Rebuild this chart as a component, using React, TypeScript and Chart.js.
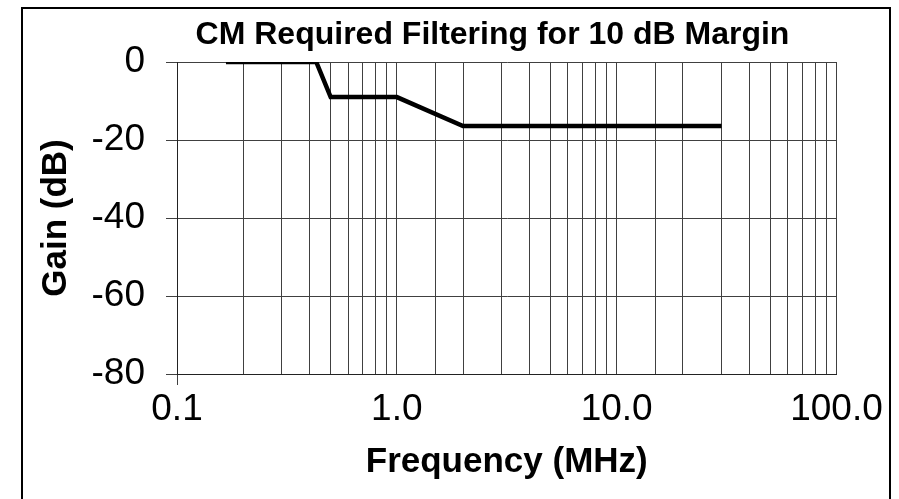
import React, { useEffect, useRef } from "react";
import { Chart, registerables } from "chart.js";

Chart.register(...registerables);

const chartTitle = "CM Required Filtering for 10 dB Margin";
const xAxisTitle = "Frequency (MHz)";
const yAxisTitle = "Gain (dB)";

const frequencyMHz = [0.167, 0.43, 0.5, 1.0, 2.0, 30];
const gainDb = [0, 0, -9, -9, -16.4, -16.4];

const xMajorTicks = [0.1, 1, 10, 100];
const xMajorLabels = ["0.1", "1.0", "10.0", "100.0"];
const yTickValues = [0, -20, -40, -60, -80];

const FONT = '"Liberation Sans", Arial, Helvetica, sans-serif';

const titlePlugin = {
  id: "customTitle",
  afterDraw(chart: any) {
    const ctx = chart.ctx;
    ctx.save();
    ctx.font = `bold 32px ${FONT}`;
    ctx.fillStyle = "#000";
    ctx.textAlign = "center";
    ctx.textBaseline = "alphabetic";
    ctx.fillText(chartTitle, 492.5, 44);
    ctx.restore();
  },
};

export default function App() {
  const canvasRef = useRef<HTMLCanvasElement | null>(null);

  useEffect(() => {
    document.body.style.margin = "0";
    const canvas = canvasRef.current;
    if (!canvas) return;
    const data = frequencyMHz.map((f, i) => ({ x: f, y: gainDb[i] }));
    const chart = new Chart(canvas, {
      type: "line",
      data: {
        datasets: [
          {
            data,
            borderColor: "#000",
            borderWidth: 4.5,
            pointRadius: 0,
            fill: false,
            tension: 0,
          },
        ],
      },
      options: {
        animation: false,
        responsive: false,
        devicePixelRatio: 1,
        layout: { padding: { left: 0, right: 62.5, top: 62, bottom: 0 } },
        plugins: {
          legend: { display: false },
          title: { display: false },
          tooltip: { enabled: false },
        },
        scales: {
          x: {
            type: "logarithmic",
            min: 0.1,
            max: 100,
            afterFit: (scale: any) => {
              scale.height = 125;
            },
            grid: {
              color: "#404040",
              lineWidth: 1,
              tickLength: 11,
              tickColor: (ctx: any) =>
                ctx.tick && Math.abs(ctx.tick.value - 0.1) < 1e-9 ? "#404040" : "rgba(0,0,0,0)",
            },
            border: { display: true, color: "#222", width: 1 },
            ticks: {
              autoSkip: false,
              maxRotation: 0,
              minRotation: 0,
              padding: 3,
              color: "#000",
              font: { family: FONT, size: 37 },
              callback: (value: any) => {
                const v = Number(value);
                const idx = xMajorTicks.findIndex((m) => Math.abs(m - v) < 1e-9 * Math.max(1, m));
                return idx >= 0 ? xMajorLabels[idx] : "";
              },
            },
            title: {
              display: true,
              text: xAxisTitle,
              color: "#000",
              font: { family: FONT, size: 35, weight: "bold" },
              padding: { top: 0, bottom: 16 },
            },
          },
          y: {
            min: -80,
            max: 0,
            afterFit: (scale: any) => {
              scale.width = 177;
            },
            afterBuildTicks: (scale: any) => {
              scale.ticks = yTickValues.map((v) => ({ value: v }));
            },
            grid: {
              color: "#404040",
              lineWidth: 1,
              tickLength: 11,
              tickColor: "#404040",
            },
            border: { display: true, color: "#222", width: 1 },
            ticks: {
              padding: 21,
              color: "#000",
              font: { family: FONT, size: 37 },
              callback: (value: any) => String(value),
            },
            title: {
              display: true,
              text: yAxisTitle,
              color: "#000",
              font: { family: FONT, size: 35, weight: "bold" },
              padding: { top: 35, bottom: 0 },
            },
          },
        },
      },
      plugins: [titlePlugin],
    } as any);
    return () => chart.destroy();
  }, []);

  return (
    <div style={{ position: "fixed", left: 0, top: 0, width: 899, height: 499, background: "#fff" }}>
      <canvas ref={canvasRef} width={899} height={499} style={{ position: "absolute", left: 0, top: 0, width: 899, height: 499 }} />
      <div
        style={{
          position: "absolute",
          left: 21,
          top: 7,
          width: 870,
          height: 520,
          border: "2px solid #000",
          boxSizing: "border-box",
          pointerEvents: "none",
        }}
      />
    </div>
  );
}
